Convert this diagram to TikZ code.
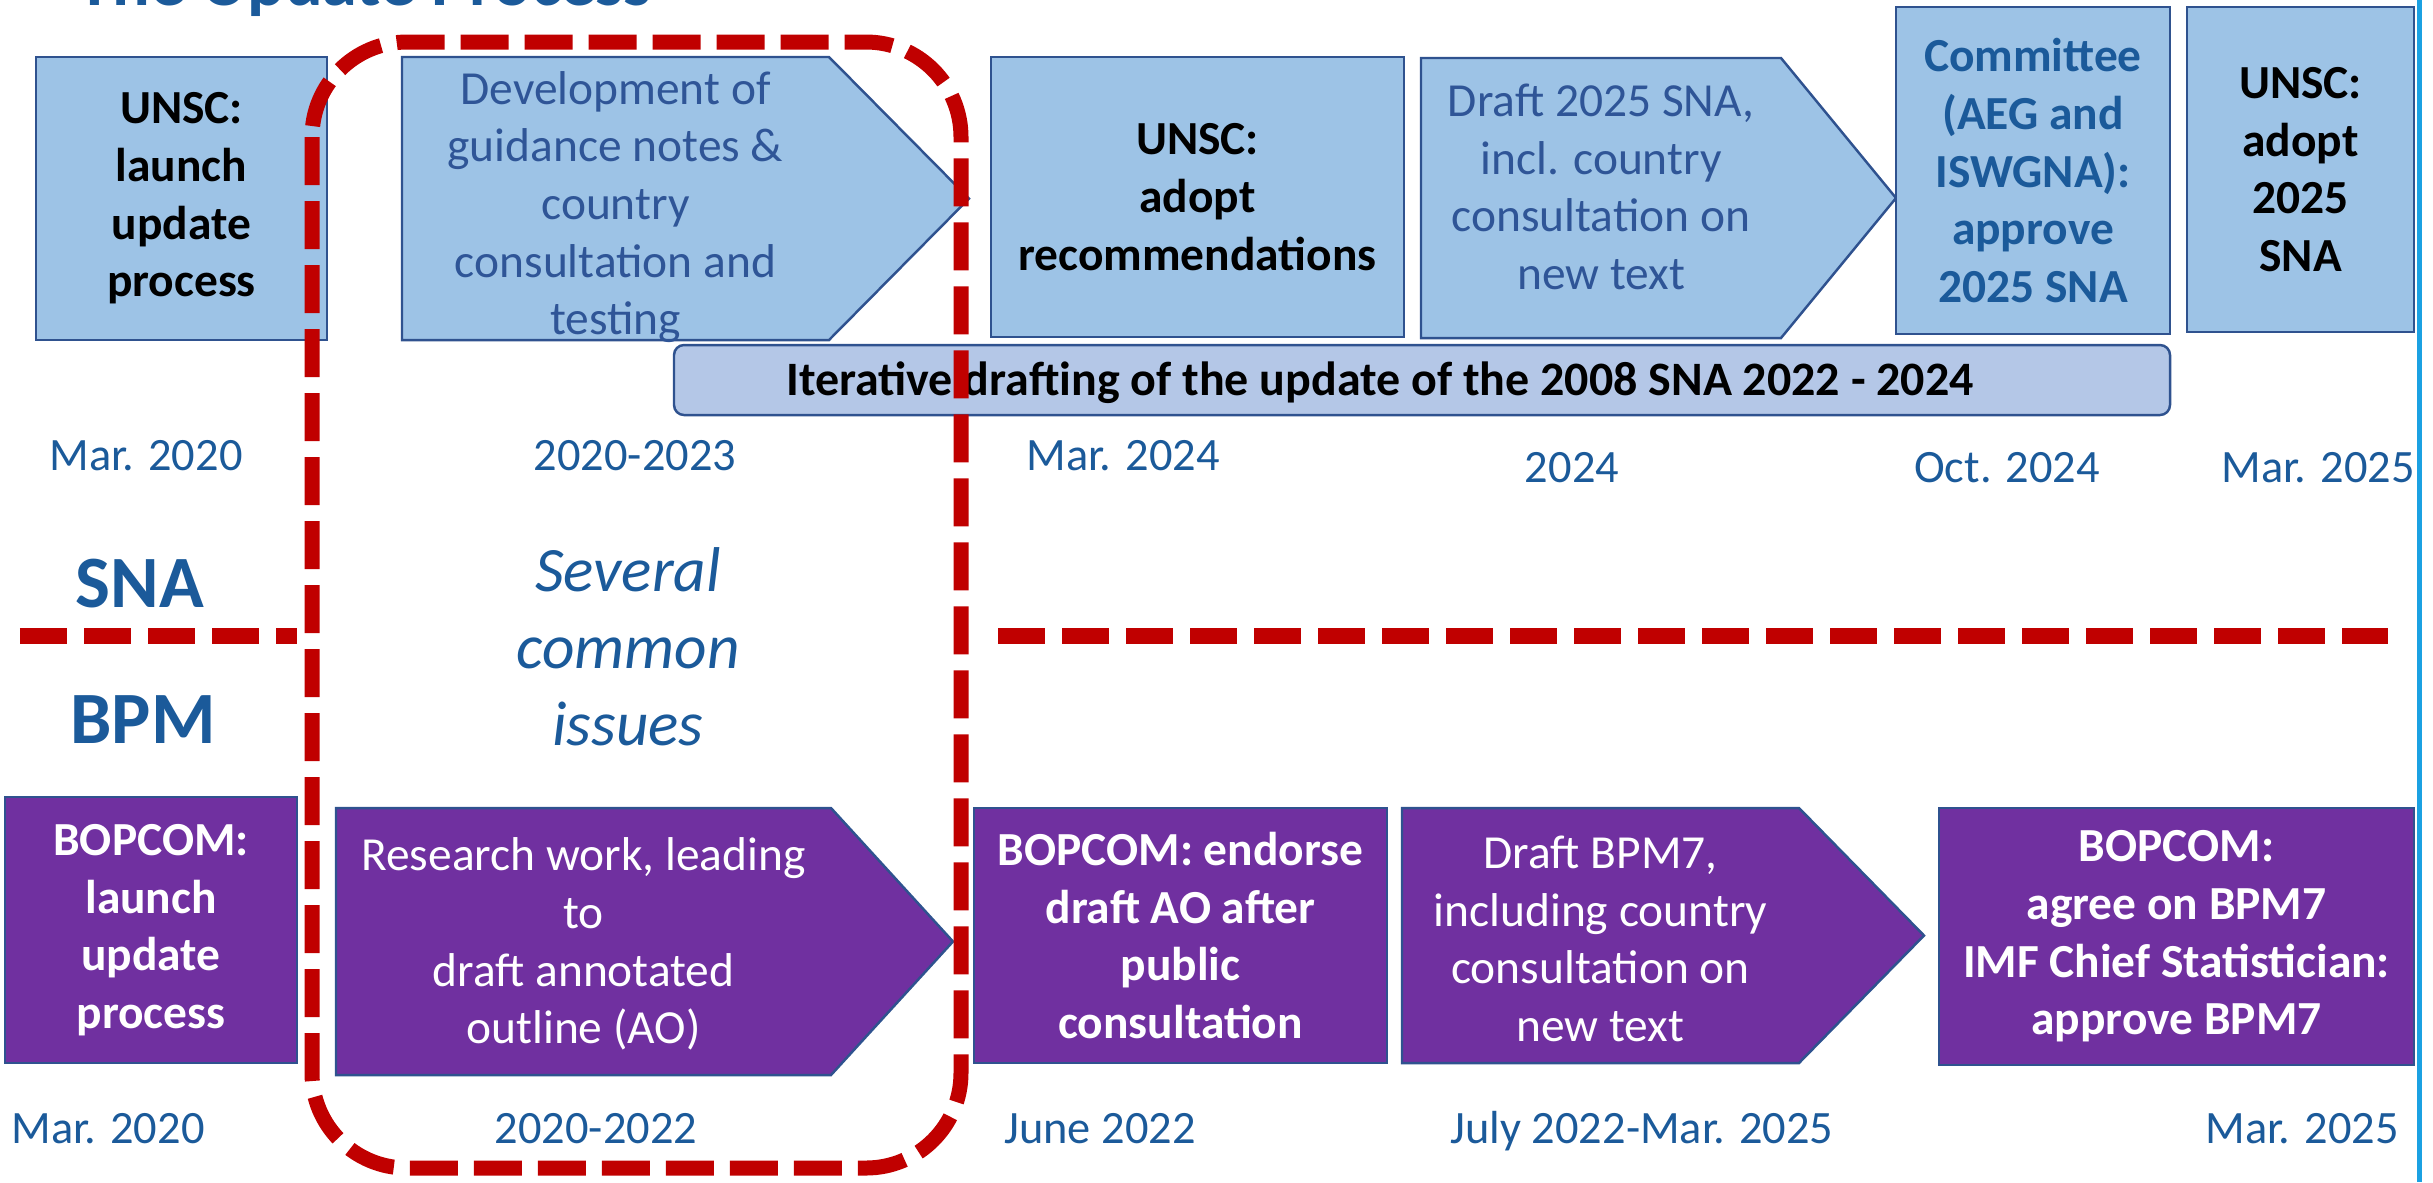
\documentclass[tikz,border=0pt]{standalone}
\usepackage{fontspec}
\setmainfont{Carlito}
\usetikzlibrary{positioning}
\definecolor{boxblue}{HTML}{9DC3E6}
\definecolor{barblue}{HTML}{B4C7E7}
\definecolor{edgeblue}{HTML}{2F528F}
\definecolor{bpmpurple}{HTML}{7030A0}
\definecolor{dashred}{HTML}{C00000}
\definecolor{dateblue}{HTML}{1B5A9A}
\definecolor{stepblue}{HTML}{2F5597}
\definecolor{edgecyan}{HTML}{1BA1E2}
\tikzset{
    snabox/.style = {rectangle, draw=edgeblue, line width=0.7pt, fill=boxblue, align=center, inner sep=0pt, font=\fontsize{13.5}{16.4}\selectfont\bfseries, text=black},
    snaboxb/.style = {snabox, text=dateblue},
    bpmbox/.style = {rectangle, draw=edgeblue, line width=0.7pt, fill=bpmpurple, align=center, inner sep=0pt, font=\fontsize{13.5}{16.4}\selectfont\bfseries, text=white},
    snastep/.style = {draw=edgeblue, line width=0.7pt, fill=boxblue},
    bpmstep/.style = {draw=edgeblue, line width=0.7pt, fill=bpmpurple},
    steptext/.style = {align=center, inner sep=0pt, font=\fontsize{13.5}{16.4}\selectfont, text=stepblue},
    steptextw/.style = {steptext, text=white},
    barbox/.style = {rectangle, rounded corners=0.1cm, draw=edgeblue, line width=0.7pt, fill=barblue, inner sep=0pt},
    bartext/.style = {anchor=base, inner sep=0pt, font=\fontsize{13.65}{16}\selectfont\bfseries, text=black},
    datelab/.style = {anchor=base, inner sep=0pt, font=\fontsize{13.2}{16}\selectfont, text=dateblue},
    rowlab/.style = {anchor=base, inner sep=0pt, font=\fontsize{21}{25}\selectfont\bfseries, text=dateblue},
    issuetext/.style = {align=center, inner sep=0pt, font=\fontsize{18}{21.9}\selectfont\itshape, text=dateblue},
    titletext/.style = {anchor=base west, inner sep=0pt, font=\fontsize{20}{24}\selectfont\bfseries, text=dateblue},
    issuebox/.style = {dashred, line width=0.15cm, dash pattern=on 0.48cm off 0.16cm, rounded corners=0.95cm}, % common issues
    splitline/.style = {dashred, line width=0.16cm, dash pattern=on 0.47cm off 0.17cm}, % SNA / BPM
    edgec/.style = {edgecyan, line width=0.05cm}
}
\begin{document}
\begin{tikzpicture}
\useasboundingbox (0.0, 0.0) rectangle (24.33, -11.82);
\node[titletext] at (0.77, -0.05) (title) {The Update Process};
% SNA row
\node[snabox, minimum width=2.91cm, minimum height=2.83cm] at (1.815, -1.985) (unscl) {UNSC:\\launch\\update\\process};
\draw[snastep] (4.02,-0.57) -- (8.29,-0.57) -- (9.69,-1.985) -- (8.29,-3.40) -- (4.02,-3.40) -- cycle;
\node[steptext] at (6.155, -2.07) (devt) {Development of\\guidance notes \&\\country\\consultation and\\testing};
\node[snabox, minimum width=4.13cm, minimum height=2.80cm] at (11.975, -1.97) (unsca) {UNSC:\\adopt\\recommendations};
\draw[snastep] (14.21,-0.58) -- (17.81,-0.58) -- (18.96,-1.98) -- (17.81,-3.38) -- (14.21,-3.38) -- cycle;
\node[steptext] at (16.01, -1.87) (drsna) {Draft 2025 SNA,\\incl. country\\consultation on\\new text};
\node[snaboxb, minimum width=2.74cm, minimum height=3.27cm] at (20.33, -1.705) (comm) {Committee\\(AEG and\\ISWGNA):\\approve\\2025 SNA};
\node[snabox, minimum width=2.27cm, minimum height=3.25cm] at (23.005, -1.695) (unscb) {UNSC:\\adopt\\2025\\SNA};
\node[barbox, minimum width=14.96cm, minimum height=0.70cm] at (14.22, -3.80) (iterbar) {};
\node[bartext] at (13.80, -3.95) (itertext) {Iterative drafting of the update of the 2008 SNA 2022 - 2024};
%
\node[datelab] at (1.46, -4.70) (dsa) {Mar. 2020};
\node[datelab] at (6.35, -4.70) (dsb) {2020-2023};
\node[datelab] at (11.23, -4.70) (dsc) {Mar. 2024};
\node[datelab] at (15.72, -4.82) (dsd) {2024};
\node[datelab] at (20.07, -4.82) (dse) {Oct. 2024};
\node[datelab] at (23.18, -4.82) (dsf) {Mar. 2025};
% middle
\node[rowlab] at (1.40, -6.07) (sna) {SNA};
\node[rowlab] at (1.43, -7.43) (bpm) {BPM};
\node[issuetext] at (6.28, -6.47) (issues) {Several\\common\\issues};
% BPM row
\node[bpmbox, minimum width=2.92cm, minimum height=2.66cm] at (1.51, -9.30) (bopl) {BOPCOM:\\launch\\update\\process};
\draw[bpmstep] (3.36,-8.08) -- (8.31,-8.08) -- (9.53,-9.415) -- (8.31,-10.75) -- (3.36,-10.75) -- cycle;
\node[steptextw] at (5.835, -9.44) (resw) {Research work, leading\\to\\draft annotated\\outline (AO)};
\node[bpmbox, minimum width=4.13cm, minimum height=2.55cm] at (11.805, -9.355) (bope) {BOPCOM: endorse\\draft AO after\\public\\consultation};
\draw[bpmstep] (14.02,-8.08) -- (17.99,-8.08) -- (19.24,-9.355) -- (17.99,-10.63) -- (14.02,-10.63) -- cycle;
\node[steptextw] at (16.005, -9.39) (drbpm) {Draft BPM7,\\including country\\consultation on\\new text};
\node[bpmbox, minimum width=4.75cm, minimum height=2.57cm] at (21.765, -9.365) (bopa) {BOPCOM:\\agree on BPM7\\IMF Chief Statistician:\\approve BPM7};
%
\node[datelab] at (1.08, -11.43) (dba) {Mar. 2020};
\node[datelab] at (5.96, -11.43) (dbb) {2020-2022};
\node[datelab] at (11.00, -11.43) (dbc) {June 2022};
\node[datelab] at (16.42, -11.43) (dbd) {July 2022-Mar. 2025};
\node[datelab] at (23.02, -11.43) (dbe) {Mar. 2025};
% red dashes on top
\draw[issuebox] (3.12, -0.42) rectangle (9.61, -11.68);
\draw[splitline] (0.20, -6.36) -- (2.97, -6.36);
\draw[splitline] (9.98, -6.36) -- (23.88, -6.36);
\draw[edgec] (24.19, 0.0) -- (24.19, -11.82);
\end{tikzpicture}
\end{document}
